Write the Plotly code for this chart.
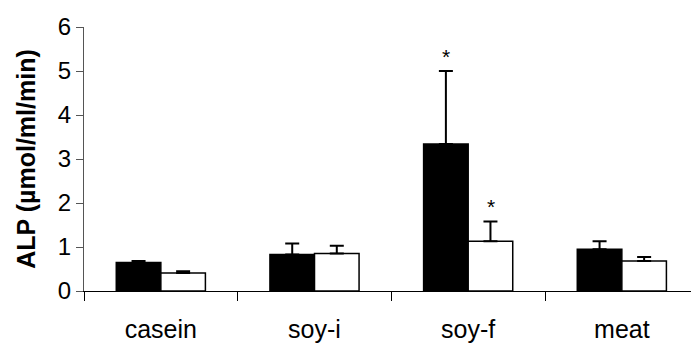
import plotly.graph_objects as go

categories = ["casein", "soy-i", "soy-f", "meat"]
black_vals = [0.65, 0.83, 3.34, 0.95]
black_err = [0.03, 0.25, 1.66, 0.18]
white_vals = [0.41, 0.85, 1.13, 0.68]
white_err = [0.04, 0.18, 0.45, 0.09]
black_sig = [False, False, True, False]
white_sig = [False, False, True, False]
y_ticks = [0, 1, 2, 3, 4, 5, 6]

FONT = "Liberation Sans, Arial, sans-serif"

fig = go.Figure()
fig.add_trace(go.Bar(
    x=categories, y=black_vals, name="black",
    marker=dict(color="black", line=dict(color="black", width=1.5)),
    error_y=dict(type="data", symmetric=False, array=black_err,
                 arrayminus=[0] * len(black_err),
                 color="black", thickness=2, width=7),
))
fig.add_trace(go.Bar(
    x=categories, y=white_vals, name="white",
    marker=dict(color="white", line=dict(color="black", width=1.5)),
    error_y=dict(type="data", symmetric=False, array=white_err,
                 arrayminus=[0] * len(white_err),
                 color="black", thickness=2, width=7),
))

annotations = []
for i, c in enumerate(categories):
    if black_sig[i]:
        annotations.append(dict(x=i, y=black_vals[i] + black_err[i], xref="x", yref="y",
                                text="*", showarrow=False, xshift=-22, yshift=15,
                                font=dict(family=FONT, size=21, color="black")))
    if white_sig[i]:
        annotations.append(dict(x=i, y=white_vals[i] + white_err[i], xref="x", yref="y",
                                text="*", showarrow=False, xshift=23, yshift=15,
                                font=dict(family=FONT, size=21, color="black")))

fig.update_layout(
    width=691, height=343,
    margin=dict(l=84, r=0, t=27, b=50),
    paper_bgcolor="white", plot_bgcolor="white",
    barmode="group", bargap=0.42, bargroupgap=0,
    showlegend=False,
    annotations=annotations,
    font=dict(family=FONT, color="black"),
    xaxis=dict(
        type="category", range=[-0.5, 3.45],
        showline=True, linecolor="black", linewidth=1,
        ticks="outside", tickson="boundaries", ticklen=9, tickcolor="black", tickwidth=1,
        tickfont=dict(family=FONT, size=25, color="black"),
        ticklabelstandoff=16,
        showgrid=False, zeroline=False,
    ),
    yaxis=dict(
        range=[0, 6], tickvals=y_ticks,
        showline=True, linecolor="#555", linewidth=1,
        ticks="outside", ticklen=7, tickcolor="#555", tickwidth=1,
        tickfont=dict(family=FONT, size=24, color="black"),
        showgrid=False, zeroline=False,
        title=dict(text="<b>ALP (µmol/ml/min)</b>", standoff=15,
                   font=dict(family=FONT, size=25, color="black")),
    ),
)

fig.write_html("out.html")
